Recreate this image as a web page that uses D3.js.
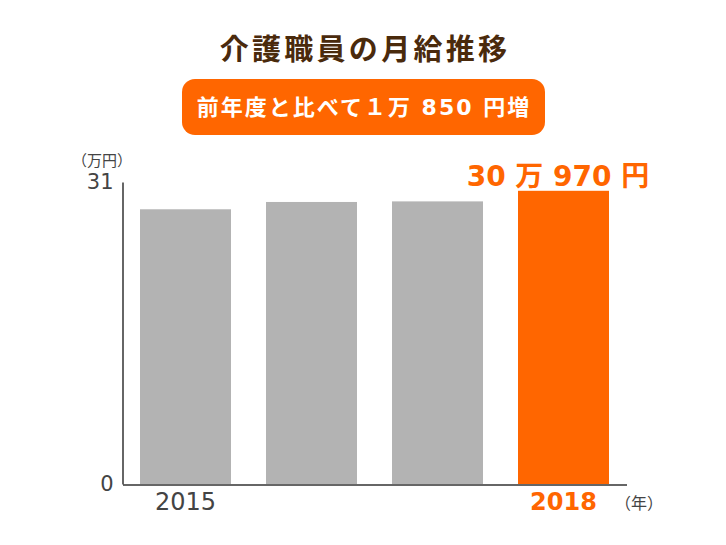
<!DOCTYPE html>
<html><head><meta charset="utf-8">
<script src="https://cdn.jsdelivr.net/npm/d3@7"></script>
<style>
html,body{margin:0;padding:0;background:#fff;}
text{font-family:"DejaVu Sans","Noto Sans CJK JP",sans-serif;}
</style></head>
<body>
<svg id="chart" width="726" height="545"></svg>
<script>
const categories = ["2015", "2016", "2017", "2018"];
const values = [28.2, 28.95, 29.01, 30.097];
const tickLabels = ["2015", "", "", "2018"];
const yTicks = [0, 31];
const title = "介護職員の月給推移";
const subtitle = "前年度と比べて１万 850 円増";
const valueLabel = "30 万 970 円";
const yUnit = "（万円）";
const xUnit = "（年）";

const svg = d3.select("#chart");
const gray = "#b3b3b3", orange = "#ff6600", axisColor = "#333";

const x = d3.scaleBand().domain(categories).range([122.5, 626.5])
  .paddingInner(35/126).paddingOuter(17.5/126);
const y = d3.scaleLinear().domain([0, 31]).range([484, 182]);

// title
svg.append("text").attr("x", 365).attr("y", 60).attr("text-anchor", "middle")
  .style("font-size", "29px").style("font-weight", "bold").style("letter-spacing", "3.3px")
  .attr("fill", "#4a2a0c").text(title);

// subtitle box
svg.append("rect").attr("x", 182).attr("y", 79).attr("width", 363).attr("height", 56)
  .attr("rx", 13).attr("fill", orange);
svg.append("text").attr("x", 364).attr("y", 115).attr("text-anchor", "middle")
  .style("font-size", "22px").style("font-weight", "bold").style("letter-spacing", "2px")
  .attr("fill", "#fff").text(subtitle);

// bars
svg.selectAll("rect.bar").data(categories).enter().append("rect")
  .attr("class", "bar")
  .attr("x", d => x(d)).attr("width", x.bandwidth())
  .attr("y", (d, i) => y(values[i]))
  .attr("height", (d, i) => y(0) - y(values[i]))
  .attr("fill", (d, i) => i === categories.length - 1 ? orange : gray);

// y axis
const yAxis = svg.append("g").attr("transform", "translate(122.5,0)")
  .call(d3.axisLeft(y).tickValues(yTicks).tickSize(0).tickPadding(9).tickFormat(d3.format("d")));
yAxis.select(".domain").attr("stroke", axisColor).attr("stroke-width", 1.5);
yAxis.selectAll("text").style("font-size", "21px").attr("fill", "#444")
  .style("font-family", "DejaVu Sans");

// x axis
const xAxis = svg.append("g").attr("transform", "translate(0,484.5)")
  .call(d3.axisBottom(x).tickSize(0).tickPadding(8).tickFormat((d, i) => tickLabels[i]));
xAxis.select(".domain").attr("stroke", axisColor).attr("stroke-width", 1.5);
xAxis.selectAll("text").style("font-size", "24px").style("font-family", "DejaVu Sans")
  .attr("fill", (d, i) => i === categories.length - 1 ? orange : "#444")
  .style("font-weight", (d, i) => i === categories.length - 1 ? "bold" : "normal");

// units
svg.append("text").attr("x", 102).attr("y", 166).attr("text-anchor", "middle")
  .style("font-size", "15px").attr("fill", "#444").text(yUnit);
svg.append("text").attr("x", 639).attr("y", 509).attr("text-anchor", "middle")
  .style("font-size", "16px").attr("fill", "#444").text(xUnit);

// value label
svg.append("text").attr("x", 558).attr("y", 186).attr("text-anchor", "middle")
  .style("font-size", "28px").style("font-weight", "bold")
  .attr("fill", orange).text(valueLabel);
</script>
</body></html>
